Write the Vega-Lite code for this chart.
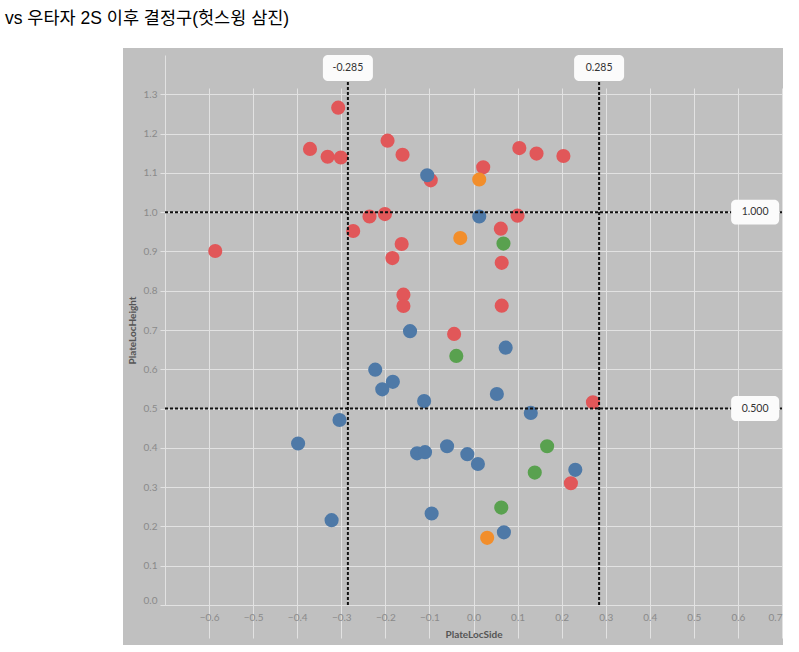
{
  "$schema": "https://vega.github.io/schema/vega-lite/v6.json",
  "width": 660,
  "height": 597,
  "autosize": "none",
  "padding": {"left": 123, "top": 48, "right": 16, "bottom": 7},
  "background": "white",
  "title": {
    "text": "vs 우타자 2S 이후 결정구(헛스윙 삼진)",
    "anchor": "start",
    "dx": -118,
    "offset": 21,
    "fontSize": 17.5,
    "font": "Liberation Sans, Noto Sans CJK KR",
    "fontWeight": "normal",
    "color": "#000000"
  },
  "config": {
    "view": {"fill": "#c0c0c0", "stroke": null},
    "axis": {
      "gridColor": "#e2e2e2",
      "gridWidth": 1,
      "domainColor": "#e2e2e2",
      "tickColor": "#e2e2e2",
      "labelColor": "#8a8a8a",
      "labelFont": "Lato",
      "labelFontSize": 10,
      "titleFont": "Lato",
      "titleFontSize": 10,
      "titleFontWeight": "bold",
      "titleColor": "#555555"
    }
  },
  "datasets": {
    "pitches": [
      {"PitchType": "Fastball", "PlateLocSide": -0.307, "PlateLocHeight": 1.266},
      {"PitchType": "Fastball", "PlateLocSide": -0.371, "PlateLocHeight": 1.161},
      {"PitchType": "Fastball", "PlateLocSide": -0.331, "PlateLocHeight": 1.141},
      {"PitchType": "Fastball", "PlateLocSide": -0.301, "PlateLocHeight": 1.139},
      {"PitchType": "Fastball", "PlateLocSide": -0.195, "PlateLocHeight": 1.182},
      {"PitchType": "Fastball", "PlateLocSide": -0.161, "PlateLocHeight": 1.146},
      {"PitchType": "Fastball", "PlateLocSide": -0.236, "PlateLocHeight": 0.989},
      {"PitchType": "Fastball", "PlateLocSide": -0.201, "PlateLocHeight": 0.995},
      {"PitchType": "Fastball", "PlateLocSide": -0.273, "PlateLocHeight": 0.952},
      {"PitchType": "Fastball", "PlateLocSide": -0.586, "PlateLocHeight": 0.901},
      {"PitchType": "Fastball", "PlateLocSide": -0.163, "PlateLocHeight": 0.919},
      {"PitchType": "Fastball", "PlateLocSide": -0.184, "PlateLocHeight": 0.883},
      {"PitchType": "Fastball", "PlateLocSide": -0.159, "PlateLocHeight": 0.790},
      {"PitchType": "Fastball", "PlateLocSide": -0.159, "PlateLocHeight": 0.761},
      {"PitchType": "Fastball", "PlateLocSide": -0.097, "PlateLocHeight": 1.081},
      {"PitchType": "Fastball", "PlateLocSide": 0.022, "PlateLocHeight": 1.114},
      {"PitchType": "Fastball", "PlateLocSide": 0.104, "PlateLocHeight": 1.163},
      {"PitchType": "Fastball", "PlateLocSide": 0.143, "PlateLocHeight": 1.149},
      {"PitchType": "Fastball", "PlateLocSide": 0.204, "PlateLocHeight": 1.143},
      {"PitchType": "Fastball", "PlateLocSide": 0.100, "PlateLocHeight": 0.991},
      {"PitchType": "Fastball", "PlateLocSide": 0.062, "PlateLocHeight": 0.958},
      {"PitchType": "Fastball", "PlateLocSide": 0.064, "PlateLocHeight": 0.871},
      {"PitchType": "Fastball", "PlateLocSide": 0.064, "PlateLocHeight": 0.762},
      {"PitchType": "Fastball", "PlateLocSide": -0.044, "PlateLocHeight": 0.690},
      {"PitchType": "Fastball", "PlateLocSide": 0.271, "PlateLocHeight": 0.516},
      {"PitchType": "Fastball", "PlateLocSide": 0.221, "PlateLocHeight": 0.310},
      {"PitchType": "ChangeUp", "PlateLocSide": -0.144, "PlateLocHeight": 0.697},
      {"PitchType": "ChangeUp", "PlateLocSide": -0.105, "PlateLocHeight": 1.094},
      {"PitchType": "ChangeUp", "PlateLocSide": 0.013, "PlateLocHeight": 0.989},
      {"PitchType": "ChangeUp", "PlateLocSide": 0.073, "PlateLocHeight": 0.655},
      {"PitchType": "ChangeUp", "PlateLocSide": -0.223, "PlateLocHeight": 0.599},
      {"PitchType": "ChangeUp", "PlateLocSide": -0.183, "PlateLocHeight": 0.568},
      {"PitchType": "ChangeUp", "PlateLocSide": -0.207, "PlateLocHeight": 0.549},
      {"PitchType": "ChangeUp", "PlateLocSide": -0.112, "PlateLocHeight": 0.519},
      {"PitchType": "ChangeUp", "PlateLocSide": -0.304, "PlateLocHeight": 0.471},
      {"PitchType": "ChangeUp", "PlateLocSide": -0.398, "PlateLocHeight": 0.411},
      {"PitchType": "ChangeUp", "PlateLocSide": -0.128, "PlateLocHeight": 0.386},
      {"PitchType": "ChangeUp", "PlateLocSide": -0.110, "PlateLocHeight": 0.389},
      {"PitchType": "ChangeUp", "PlateLocSide": -0.060, "PlateLocHeight": 0.404},
      {"PitchType": "ChangeUp", "PlateLocSide": -0.014, "PlateLocHeight": 0.384},
      {"PitchType": "ChangeUp", "PlateLocSide": 0.010, "PlateLocHeight": 0.359},
      {"PitchType": "ChangeUp", "PlateLocSide": -0.322, "PlateLocHeight": 0.216},
      {"PitchType": "ChangeUp", "PlateLocSide": -0.095, "PlateLocHeight": 0.233},
      {"PitchType": "ChangeUp", "PlateLocSide": 0.053, "PlateLocHeight": 0.537},
      {"PitchType": "ChangeUp", "PlateLocSide": 0.130, "PlateLocHeight": 0.489},
      {"PitchType": "ChangeUp", "PlateLocSide": 0.231, "PlateLocHeight": 0.344},
      {"PitchType": "ChangeUp", "PlateLocSide": 0.069, "PlateLocHeight": 0.185},
      {"PitchType": "Slider", "PlateLocSide": 0.068, "PlateLocHeight": 0.920},
      {"PitchType": "Slider", "PlateLocSide": -0.039, "PlateLocHeight": 0.634},
      {"PitchType": "Slider", "PlateLocSide": 0.167, "PlateLocHeight": 0.404},
      {"PitchType": "Slider", "PlateLocSide": 0.139, "PlateLocHeight": 0.337},
      {"PitchType": "Slider", "PlateLocSide": 0.063, "PlateLocHeight": 0.248},
      {"PitchType": "Curveball", "PlateLocSide": 0.013, "PlateLocHeight": 1.083},
      {"PitchType": "Curveball", "PlateLocSide": -0.030, "PlateLocHeight": 0.934},
      {"PitchType": "Curveball", "PlateLocSide": 0.031, "PlateLocHeight": 0.171}
    ],
    "xrefs": [
      {"PlateLocSide": -0.285, "label": "-0.285"},
      {"PlateLocSide": 0.285, "label": "0.285"}
    ],
    "yrefs": [
      {"PlateLocHeight": 1.0, "label": "1.000"},
      {"PlateLocHeight": 0.5, "label": "0.500"}
    ]
  },
  "layer": [
    {
      "data": {"name": "pitches"},
      "mark": {"type": "circle", "size": 200, "opacity": 1},
      "encoding": {
        "x": {
          "field": "PlateLocSide",
          "type": "quantitative",
          "scale": {"domain": [-0.7, 0.7], "range": [42, 659], "nice": false, "zero": false},
          "axis": {
            "title": "PlateLocSide",
            "orient": "bottom",
            "offset": -40,
            "values": [-0.6, -0.5, -0.4, -0.3, -0.2, -0.1, 0, 0.1, 0.2, 0.3, 0.4, 0.5, 0.6, 0.7],
            "format": ".1f",
            "ticks": false,
            "labelPadding": 7,
            "titlePadding": 7,
            "labelFlush": true
          }
        },
        "y": {
          "field": "PlateLocHeight",
          "type": "quantitative",
          "scale": {"domain": [0, 1.4], "range": [557, 7], "nice": false, "zero": false},
          "axis": {
            "title": "PlateLocHeight",
            "orient": "left",
            "offset": -42,
            "values": [0, 0.1, 0.2, 0.3, 0.4, 0.5, 0.6, 0.7, 0.8, 0.9, 1.0, 1.1, 1.2, 1.3],
            "format": ".1f",
            "ticks": true,
            "tickSize": 5,
            "labelPadding": 3,
            "titlePadding": 6,
            "labelFlush": true
          }
        },
        "color": {
          "field": "PitchType",
          "type": "nominal",
          "scale": {"domain": ["ChangeUp", "Curveball", "Fastball", "Slider"], "range": ["#4e79a7", "#f28e2b", "#e15759", "#59a14f"]},
          "legend": null
        }
      }
    },
    {
      "data": {"name": "xrefs"},
      "mark": {"type": "rule", "strokeDash": [3, 2], "strokeWidth": 2, "color": "#111111"},
      "encoding": {
        "x": {"field": "PlateLocSide", "type": "quantitative"},
        "y": {"datum": 0},
        "y2": {"datum": 1.38}
      }
    },
    {
      "data": {"name": "yrefs"},
      "mark": {"type": "rule", "strokeDash": [3, 2], "strokeWidth": 2, "color": "#111111"},
      "encoding": {
        "y": {"field": "PlateLocHeight", "type": "quantitative"},
        "x": {"datum": -0.7},
        "x2": {"datum": 0.7}
      }
    },
    {
      "data": {"name": "xrefs"},
      "mark": {
        "type": "point",
        "shape": "M -0.8 -0.52 L 0.8 -0.52 A 0.2 0.2 0 0 1 1 -0.32 L 1 0.32 A 0.2 0.2 0 0 1 0.8 0.52 L -0.8 0.52 A 0.2 0.2 0 0 1 -1 0.32 L -1 -0.32 A 0.2 0.2 0 0 1 -0.8 -0.52 Z",
        "size": 2500,
        "filled": true,
        "fill": "#fbfbfb",
        "opacity": 1,
        "strokeWidth": 0
      },
      "encoding": {
        "x": {"field": "PlateLocSide", "type": "quantitative"},
        "y": {"datum": 1.367}
      }
    },
    {
      "data": {"name": "xrefs"},
      "mark": {"type": "text", "font": "Lato", "fontSize": 10.5, "color": "#333333", "align": "center", "baseline": "middle"},
      "encoding": {
        "x": {"field": "PlateLocSide", "type": "quantitative"},
        "y": {"datum": 1.367},
        "text": {"field": "label"}
      }
    },
    {
      "data": {"name": "yrefs"},
      "mark": {
        "type": "point",
        "shape": "M -0.8 -0.52 L 0.8 -0.52 A 0.2 0.2 0 0 1 1 -0.32 L 1 0.32 A 0.2 0.2 0 0 1 0.8 0.52 L -0.8 0.52 A 0.2 0.2 0 0 1 -1 0.32 L -1 -0.32 A 0.2 0.2 0 0 1 -0.8 -0.52 Z",
        "size": 2304,
        "filled": true,
        "fill": "#fbfbfb",
        "opacity": 1,
        "strokeWidth": 0
      },
      "encoding": {
        "y": {"field": "PlateLocHeight", "type": "quantitative"},
        "x": {"datum": 0.639}
      }
    },
    {
      "data": {"name": "yrefs"},
      "mark": {"type": "text", "font": "Lato", "fontSize": 10.5, "color": "#333333", "align": "center", "baseline": "middle"},
      "encoding": {
        "y": {"field": "PlateLocHeight", "type": "quantitative"},
        "x": {"datum": 0.639},
        "text": {"field": "label"}
      }
    }
  ]
}
